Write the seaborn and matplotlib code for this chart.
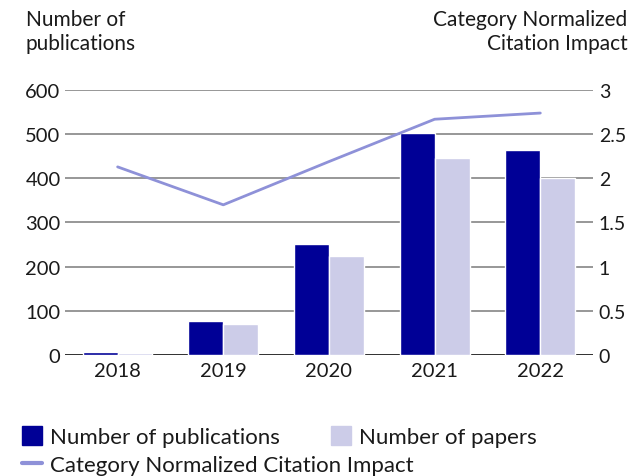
import matplotlib.pyplot as plt
import numpy as np
import pandas as pd
import seaborn as sns
from matplotlib.patches import Patch
from matplotlib.lines import Line2D

years = ['2018', '2019', '2020', '2021', '2022']
publications = [7, 77, 251, 503, 464]
papers = [4, 70, 224, 446, 401]
cnci = [2.13, 1.70, 2.19, 2.67, 2.74]

dark = '#000096'
light = '#cccce8'
line_col = '#8e91d8'
txt = '#1a1a1a'

sns.set_style('white')
plt.rcParams['font.family'] = ['Lato', 'DejaVu Sans']

bars = pd.DataFrame({
    'year': years * 2,
    'value': publications + papers,
    'series': ['Number of publications'] * 5 + ['Number of papers'] * 5,
})

fig = plt.figure(figsize=(6.29, 4.77), dpi=100)
ax = fig.add_axes([0.103, 0.254, 0.84, 0.555])
ax.axhline(0, color='#222222', linewidth=1.2, zorder=0.9)
sns.barplot(data=bars, x='year', y='value', hue='series',
            palette=[dark, light], width=0.66, saturation=1,
            ax=ax, legend=False, zorder=2)
ax.set_ylim(0, 600)
ax.set_xlim(-0.5, 4.5)
ax.set_yticks(range(0, 601, 100))
ax.yaxis.grid(True, color='#7a7a7a', linewidth=1.1)
ax.set_axisbelow(True)
ax.set(xlabel='', ylabel='')
for s in ax.spines.values():
    s.set_visible(False)
ax.tick_params(axis='both', length=0, labelsize=14.5, colors=txt)
ax.tick_params(axis='y', pad=3)
ax.tick_params(axis='x', pad=5)

ax2 = ax.twinx()
sns.lineplot(x=np.arange(len(years)), y=cnci, color=line_col, linewidth=2, ax=ax2)
ax2.set_ylim(0, 3)
ax2.set_yticks([0, 0.5, 1, 1.5, 2, 2.5, 3])
ax2.set_yticklabels(['0', '0.5', '1', '1.5', '2', '2.5', '3'])
for s in ax2.spines.values():
    s.set_visible(False)
ax2.tick_params(axis='y', length=0, labelsize=14, colors=txt, pad=4)

fig.text(0.041, 0.978, 'Number of\npublications', ha='left', va='top',
         fontsize=15, color=txt, linespacing=1.2)
fig.text(0.998, 0.978, 'Category Normalized\nCitation Impact', ha='right', va='top',
         fontsize=15, color=txt, linespacing=1.2, multialignment='right')

leg1 = fig.legend([Patch(color=dark), Patch(color=light)],
                  ['Number of publications', 'Number of papers'],
                  loc='upper left', bbox_to_anchor=(0.035, 0.104),
                  ncol=2, frameon=False, fontsize=16, handlelength=0.9,
                  handleheight=0.9, handletextpad=0.35, columnspacing=2.3,
                  borderpad=0, borderaxespad=0)
for t in leg1.get_texts():
    t.set_color(txt)
leg2 = fig.legend([Line2D([], [], color=line_col, linewidth=3)],
                  ['Category Normalized Citation Impact'],
                  loc='upper left', bbox_to_anchor=(0.035, 0.045),
                  frameon=False, fontsize=16, handlelength=0.9,
                  handletextpad=0.35, borderpad=0, borderaxespad=0)
for t in leg2.get_texts():
    t.set_color(txt)

fig.savefig('out.png', dpi=100)
